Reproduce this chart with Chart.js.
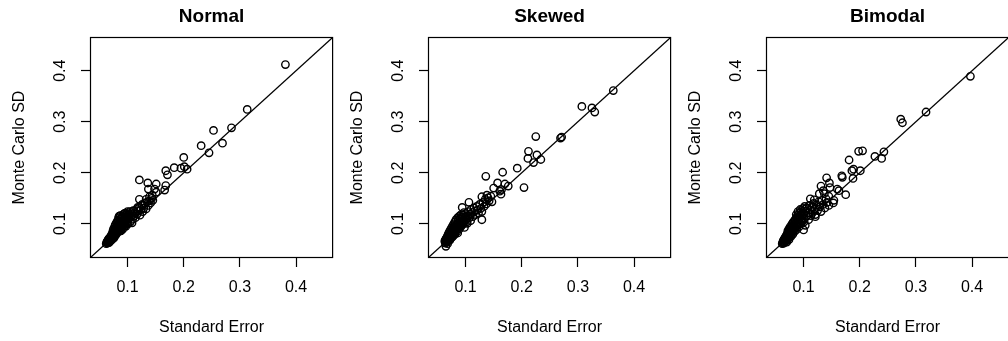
<!DOCTYPE html>
<html>
<head>
<meta charset="utf-8">
<script src="https://cdn.jsdelivr.net/npm/chart.js@4.4.0/dist/chart.umd.min.js"></script>
<style>
  html, body { margin: 0; padding: 0; background: #fff; overflow: hidden; }
  #wrap { position: relative; width: 1008px; height: 341px; overflow: hidden; }
  #wrap canvas { position: absolute; top: 0; }
</style>
</head>
<body>
<div id="wrap">
  <canvas id="p0" width="338" height="341" style="left:0px"></canvas>
  <canvas id="p1" width="338" height="341" style="left:338px"></canvas>
  <canvas id="p2" width="338" height="341" style="left:676px"></canvas>
</div>
<script>
// panel titles, axis titles and ticks
const panelTitles = ['Normal', 'Skewed', 'Bimodal'];
const xTitle = 'Standard Error';
const yTitle = 'Monte Carlo SD';
const tickValues = [0.1, 0.2, 0.3, 0.4];
const axisMin = 0.034;
const axisMax = 0.465;

// [standard error, monte carlo sd] per simulated estimate
const normalPts = [
  [0.381,0.412],[0.313,0.324],[0.285,0.288],[0.253,0.283],[0.269,0.258],[0.231,0.253],[0.245,0.239],
  [0.200,0.230],[0.195,0.209],[0.201,0.212],[0.206,0.207],[0.183,0.210],[0.168,0.204],[0.171,0.196],
  [0.121,0.186],[0.136,0.180],[0.151,0.178],[0.137,0.168],[0.168,0.175],[0.166,0.166],[0.148,0.168],
  [0.151,0.162],[0.121,0.148],[0.133,0.148],[0.139,0.153],[0.144,0.156],[0.126,0.138],[0.118,0.132],
  [0.110,0.125],[0.103,0.120],[0.108,0.102],[0.094,0.120],[0.085,0.115],[0.088,0.105],[0.082,0.102],
  [0.088,0.086],
  [0.062,0.061],[0.063,0.064],[0.064,0.062],[0.065,0.067],[0.066,0.065],[0.066,0.070],[0.067,0.063],
  [0.068,0.068],[0.068,0.072],[0.069,0.066],[0.070,0.074],[0.070,0.070],[0.071,0.068],[0.072,0.077],
  [0.072,0.073],[0.073,0.071],[0.074,0.080],[0.074,0.075],[0.075,0.078],[0.076,0.073],[0.076,0.084],
  [0.077,0.081],[0.078,0.077],[0.078,0.088],[0.079,0.085],[0.080,0.080],[0.080,0.092],[0.081,0.087],
  [0.082,0.083],[0.082,0.096],[0.083,0.090],[0.084,0.100],[0.085,0.086],[0.085,0.094],[0.086,0.104],
  [0.087,0.091],[0.088,0.098],[0.088,0.110],[0.089,0.095],[0.090,0.106],[0.091,0.089],[0.091,0.114],
  [0.092,0.101],[0.093,0.097],[0.094,0.108],[0.095,0.116],[0.096,0.103],[0.097,0.095],[0.098,0.112],
  [0.099,0.120],[0.100,0.106],[0.101,0.100],[0.102,0.117],[0.103,0.110],[0.104,0.124],[0.105,0.104],
  [0.106,0.114],[0.108,0.120],[0.109,0.109],[0.110,0.126],[0.111,0.115],[0.113,0.122],[0.114,0.112],
  [0.116,0.128],[0.117,0.119],[0.119,0.125],[0.121,0.132],[0.122,0.117],[0.124,0.128],[0.126,0.136],
  [0.127,0.124],[0.129,0.131],[0.131,0.140],[0.133,0.129],[0.135,0.143],[0.137,0.136],[0.139,0.145],
  [0.141,0.141],[0.143,0.150],[0.145,0.146],
  [0.064,0.066],[0.065,0.063],[0.066,0.068],[0.067,0.071],[0.068,0.065],[0.069,0.074],[0.070,0.068],
  [0.071,0.078],[0.071,0.072],[0.072,0.069],[0.073,0.082],[0.073,0.075],[0.074,0.086],[0.075,0.072],
  [0.075,0.090],[0.076,0.080],[0.077,0.094],[0.077,0.077],[0.078,0.098],[0.079,0.082],[0.079,0.091],
  [0.080,0.102],[0.081,0.084],[0.081,0.095],[0.082,0.106],[0.083,0.088],[0.084,0.112],[0.084,0.093],
  [0.085,0.099],[0.086,0.109],[0.087,0.086],[0.087,0.116],[0.088,0.102],[0.089,0.092],[0.090,0.113],
  [0.090,0.099],[0.092,0.118],[0.093,0.105],[0.095,0.096],[0.096,0.121],[0.097,0.110],[0.099,0.102],
  [0.100,0.124],[0.102,0.113]
];

const skewedPts = [
  [0.363,0.361],[0.307,0.330],[0.325,0.327],[0.330,0.319],[0.269,0.268],[0.271,0.270],[0.225,0.271],
  [0.212,0.242],[0.211,0.228],[0.227,0.235],[0.234,0.226],[0.221,0.220],[0.192,0.209],[0.136,0.193],
  [0.166,0.201],[0.157,0.180],[0.170,0.178],[0.176,0.174],[0.163,0.158],[0.150,0.170],[0.161,0.164],
  [0.164,0.167],[0.204,0.171],[0.147,0.143],[0.138,0.156],[0.129,0.153],[0.129,0.108],[0.106,0.142],
  [0.094,0.132],[0.065,0.056],
  [0.063,0.066],[0.064,0.062],[0.065,0.070],[0.066,0.064],[0.067,0.068],[0.067,0.074],[0.068,0.061],
  [0.069,0.071],[0.070,0.067],[0.070,0.078],[0.071,0.074],[0.072,0.070],[0.073,0.081],[0.073,0.076],
  [0.074,0.072],[0.075,0.085],[0.076,0.079],[0.077,0.075],[0.077,0.089],[0.078,0.083],[0.079,0.078],
  [0.080,0.093],[0.081,0.086],[0.081,0.080],[0.082,0.097],[0.083,0.090],[0.084,0.084],[0.085,0.101],
  [0.086,0.094],[0.086,0.082],[0.087,0.106],[0.088,0.098],[0.089,0.090],[0.090,0.110],[0.091,0.102],
  [0.092,0.095],[0.093,0.113],[0.094,0.106],[0.095,0.099],[0.096,0.117],[0.097,0.104],[0.098,0.093],
  [0.099,0.112],[0.100,0.120],[0.101,0.108],[0.103,0.101],[0.104,0.116],[0.105,0.124],[0.106,0.111],
  [0.108,0.119],[0.109,0.106],[0.110,0.128],[0.112,0.122],[0.113,0.114],[0.115,0.131],[0.116,0.125],
  [0.118,0.118],[0.120,0.134],[0.121,0.127],[0.123,0.121],[0.125,0.138],[0.127,0.130],[0.129,0.124],
  [0.131,0.142],[0.133,0.134],[0.135,0.148],[0.137,0.139],[0.140,0.151],[0.142,0.145],[0.145,0.154],
  [0.064,0.068],[0.065,0.064],[0.066,0.072],[0.067,0.066],[0.068,0.076],[0.069,0.069],[0.069,0.080],
  [0.070,0.073],[0.071,0.084],[0.072,0.077],[0.072,0.068],[0.073,0.088],[0.074,0.080],[0.075,0.092],
  [0.075,0.074],[0.076,0.084],[0.077,0.096],[0.078,0.088],[0.078,0.079],[0.079,0.100],[0.080,0.090],
  [0.081,0.104],[0.082,0.086],[0.083,0.094],[0.083,0.108],[0.084,0.098],[0.085,0.089],[0.086,0.112],
  [0.087,0.101],[0.088,0.093],[0.089,0.115],[0.090,0.104],[0.091,0.097],[0.092,0.118],[0.094,0.101],
  [0.095,0.110],[0.097,0.122],[0.098,0.107],[0.100,0.114],[0.102,0.104]
];

const bimodalPts = [
  [0.397,0.389],[0.318,0.319],[0.273,0.305],[0.276,0.298],[0.198,0.242],[0.205,0.243],[0.243,0.241],
  [0.227,0.232],[0.239,0.228],[0.181,0.225],[0.189,0.207],[0.201,0.204],[0.188,0.189],[0.168,0.194],
  [0.169,0.191],[0.186,0.204],[0.141,0.190],[0.146,0.180],[0.131,0.174],[0.163,0.165],[0.175,0.157],
  [0.153,0.141],[0.154,0.146],[0.160,0.168],[0.147,0.171],[0.137,0.159],[0.145,0.154],[0.128,0.159],
  [0.135,0.165],[0.112,0.149],[0.119,0.147],[0.116,0.132],[0.121,0.114],[0.100,0.088],[0.064,0.063],
  [0.062,0.061],[0.063,0.064],[0.064,0.067],[0.065,0.062],[0.066,0.070],[0.067,0.066],[0.068,0.073],
  [0.069,0.069],[0.070,0.064],[0.070,0.077],[0.071,0.072],[0.072,0.081],[0.073,0.075],[0.074,0.069],
  [0.074,0.085],[0.075,0.079],[0.076,0.089],[0.077,0.083],[0.078,0.076],[0.078,0.093],[0.079,0.087],
  [0.080,0.097],[0.081,0.080],[0.082,0.091],[0.082,0.104],[0.083,0.099],[0.084,0.085],[0.085,0.108],
  [0.086,0.095],[0.087,0.112],[0.088,0.089],[0.089,0.102],[0.090,0.117],[0.091,0.107],[0.092,0.094],
  [0.093,0.121],[0.094,0.112],[0.095,0.100],[0.096,0.126],[0.097,0.116],[0.098,0.105],[0.099,0.130],
  [0.100,0.120],[0.101,0.110],[0.102,0.134],[0.103,0.097],[0.104,0.125],[0.105,0.115],[0.106,0.131],
  [0.108,0.121],[0.109,0.108],[0.110,0.136],[0.112,0.127],[0.113,0.116],[0.115,0.133],[0.116,0.122],
  [0.118,0.140],[0.120,0.129],[0.121,0.118],[0.123,0.137],[0.125,0.126],[0.127,0.143],[0.129,0.133],
  [0.131,0.124],[0.133,0.146],[0.135,0.138],[0.138,0.131],[0.140,0.149],[0.142,0.142],[0.145,0.136],
  [0.063,0.062],[0.064,0.065],[0.065,0.069],[0.066,0.064],[0.067,0.073],[0.068,0.068],[0.069,0.077],
  [0.069,0.066],[0.070,0.071],[0.071,0.081],[0.072,0.074],[0.072,0.086],[0.073,0.079],[0.074,0.090],
  [0.075,0.073],[0.075,0.083],[0.076,0.094],[0.077,0.078],[0.078,0.087],[0.079,0.099],[0.080,0.083],
  [0.080,0.092],[0.081,0.102],[0.082,0.087],[0.083,0.096],[0.084,0.106],[0.085,0.091],[0.086,0.101],
  [0.087,0.118],[0.088,0.096],[0.089,0.109],[0.090,0.124],[0.091,0.100],[0.092,0.114],[0.094,0.128],
  [0.095,0.106],[0.096,0.119],[0.098,0.111],[0.099,0.124],[0.101,0.104],[0.103,0.129]
];

const panelData = [normalPts, skewedPts, bimodalPts];

Chart.defaults.font.family = "'Liberation Sans', Arial, Helvetica, sans-serif";
Chart.defaults.color = '#000';

const labelFont = { size: 16 };

// box around the plotting region
const boxPlugin = {
  id: 'frame',
  afterDraw(chart) {
    const { ctx, chartArea: a } = chart;
    ctx.save();
    ctx.strokeStyle = '#000';
    ctx.lineWidth = 1.2;
    ctx.strokeRect(a.left, a.top, a.right - a.left, a.bottom - a.top);
    ctx.restore();
  }
};

function tickSetup(scale) {
  scale.ticks = tickValues.map(v => ({ value: v }));
}

function makePanel(idx) {
  const pts = panelData[idx];
  new Chart(document.getElementById('p' + idx), {
    type: 'scatter',
    data: {
      datasets: [
        {
          data: pts.map(p => ({ x: p[0], y: p[1] })),
          pointStyle: 'circle',
          pointRadius: 3.7,
          pointBorderWidth: 1.4,
          pointBorderColor: '#000',
          pointBackgroundColor: 'rgba(0,0,0,0)'
        },
        {
          // y = x reference line
          type: 'line',
          data: [{ x: axisMin, y: axisMin }, { x: axisMax, y: axisMax }],
          borderColor: '#000',
          borderWidth: 1.2,
          pointRadius: 0,
          fill: false
        }
      ]
    },
    options: {
      responsive: false,
      animation: false,
      devicePixelRatio: 1,
      events: [],
      layout: { padding: { left: 0, top: 0, right: 1.5, bottom: 0 } },
      plugins: {
        legend: { display: false },
        tooltip: { enabled: false },
        title: {
          display: true,
          text: panelTitles[idx],
          fullSize: false,
          color: '#000',
          font: { size: 19, weight: 'bold' },
          padding: { top: 5.3, bottom: 9.4 }
        }
      },
      scales: {
        x: {
          type: 'linear',
          min: axisMin,
          max: axisMax,
          afterBuildTicks: tickSetup,
          afterFit: s => { s.height = 83.5; },
          border: { display: false },
          grid: { drawOnChartArea: false, drawTicks: true, tickLength: 9.5, tickColor: '#000', tickWidth: 1.2 },
          ticks: {
            autoSkip: false, maxRotation: 0, padding: 10.9, color: '#000', font: labelFont,
            callback: v => v.toFixed(1)
          },
          title: { display: true, text: xTitle, color: '#000', font: labelFont, padding: { top: 0, bottom: 3.9 } }
        },
        y: {
          type: 'linear',
          min: axisMin,
          max: axisMax,
          afterBuildTicks: tickSetup,
          afterFit: s => { s.width = 90.5; },
          border: { display: false },
          grid: { drawOnChartArea: false, drawTicks: true, tickLength: 9.5, tickColor: '#000', tickWidth: 1.2 },
          ticks: {
            autoSkip: false, minRotation: 90, maxRotation: 90, crossAlign: 'center',
            padding: 9.4, color: '#000', font: labelFont,
            callback: v => v.toFixed(1)
          },
          title: { display: true, text: yTitle, color: '#000', font: labelFont, padding: { top: 9.9, bottom: 0 } }
        }
      }
    },
    plugins: [boxPlugin]
  });
}

panelTitles.forEach((_, i) => makePanel(i));
</script>
</body>
</html>
